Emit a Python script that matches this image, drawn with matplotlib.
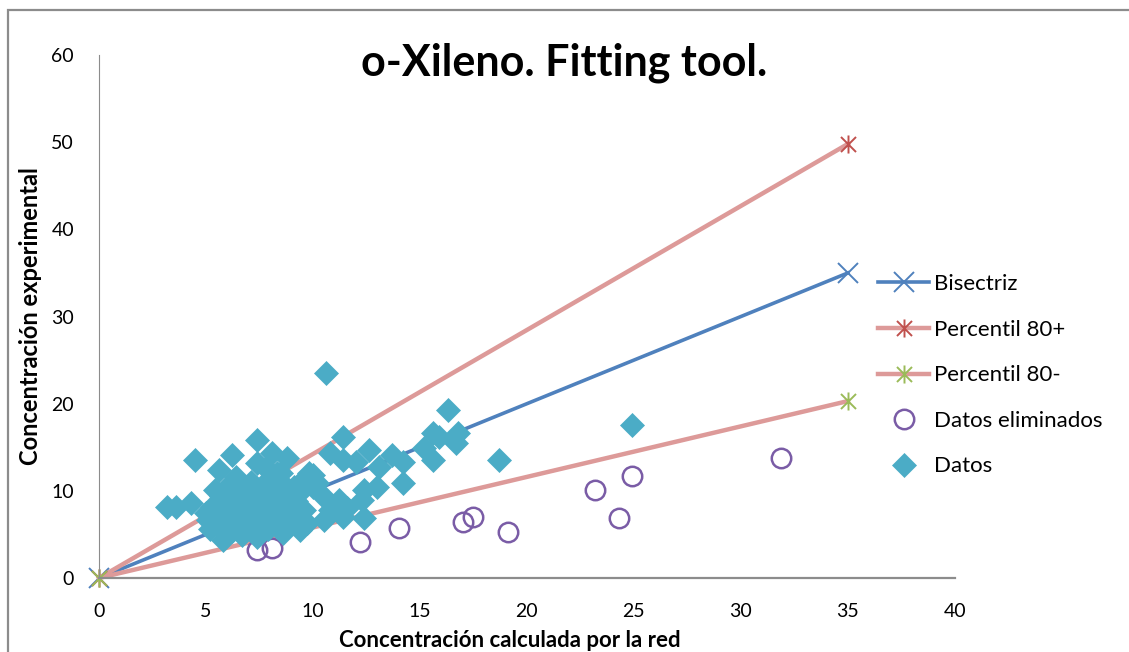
import matplotlib
matplotlib.use("Agg")
import matplotlib.pyplot as plt
from matplotlib.path import Path
from matplotlib.patches import Rectangle

# --- datos ---
linea_x = [0, 35]
bisectriz_y = [0, 35]
p80_mas_y = [0, 49.8]
p80_menos_y = [0, 20.3]

elim_x = [7.4, 8.1, 12.2, 14.0, 17.0, 17.5, 19.1, 23.2, 24.3, 24.9, 31.9]
elim_y = [3.2, 3.4, 4.1, 5.7, 6.4, 7.0, 5.3, 10.1, 6.9, 11.7, 13.8]

datos_x = [10.6, 16.3, 24.9, 18.7, 15.6, 15.9, 16.8, 16.7, 15.2, 15.6, 14.2, 14.2,
           11.4, 10.8, 12.6, 12.0, 11.4, 8.8, 13.7, 13.1, 12.4, 13.0, 10.0, 10.0,
           9.1, 10.5, 11.2, 11.6, 11.4, 12.4, 10.5, 9.4, 8.9, 8.8, 8.6, 8.5, 10.8, 12.3,
           7.4, 8.1, 4.5, 6.2, 5.6, 7.4, 8.3, 3.2, 3.6, 4.3, 9.8, 10.2, 5.4, 5.1, 5.8, 7.4,
           5.0, 5.3, 5.6, 5.9, 6.0, 6.2, 6.3, 6.5, 6.6, 6.8, 6.9, 7.0, 7.1, 7.2, 7.4, 7.5,
           7.6, 7.7, 7.9, 8.0, 8.1, 8.2, 8.4, 8.5, 8.7, 9.0, 9.2, 9.3, 9.6, 9.7, 6.1, 5.7,
           6.4, 7.8, 5.2, 6.7, 8.6, 9.5]
datos_y = [23.5, 19.3, 17.5, 13.5, 16.6, 16.2, 16.6, 15.5, 14.9, 13.5, 13.3, 10.9,
           16.2, 14.4, 14.7, 13.3, 13.5, 13.8, 14.1, 12.7, 10.1, 10.4, 11.8, 10.4,
           10.4, 9.3, 8.9, 8.0, 7.0, 6.9, 6.7, 5.5, 7.4, 8.6, 9.3, 12.0, 7.8, 8.9,
           15.8, 14.3, 13.5, 14.1, 12.4, 13.2, 12.0, 8.1, 8.1, 8.6, 12.0, 10.9, 10.1, 6.7, 4.4, 4.7,
           7.5, 8.2, 6.0, 7.1, 8.8, 5.4, 9.5, 6.5, 7.8, 10.2, 5.8, 8.5, 11.0, 7.0, 9.2, 6.2,
           10.5, 8.0, 5.6, 9.8, 7.2, 11.2, 6.4, 8.4, 10.5, 6.8, 8.8, 9.6, 7.8, 6.3, 10.8, 9.4,
           11.6, 12.6, 5.6, 4.9, 5.2, 11.1]

x_ticks = [0, 5, 10, 15, 20, 25, 30, 35, 40]
y_ticks = [0, 10, 20, 30, 40, 50, 60]

# marcador asterisco tipo Excel (X + linea vertical)
asterisco = Path([(-1, -1), (1, 1), (-1, 1), (1, -1), (0, -1.2), (0, 1.2)],
                 [Path.MOVETO, Path.LINETO, Path.MOVETO, Path.LINETO, Path.MOVETO, Path.LINETO])

azul = '#4F81BD'
rosa = '#DD9A99'
rojo = '#C0504D'
verde = '#9BBB59'
morado = '#7A5CA6'
aqua = '#4BACC6'

plt.rcParams['font.family'] = ['Lato', 'DejaVu Sans']

fig = plt.figure(figsize=(11.29, 6.52), dpi=100)
ax = fig.add_axes([0.0877, 0.1135, 0.758, 0.802])

ax.plot(linea_x, bisectriz_y, color=azul, lw=2.6, marker='x', ms=14, mew=1.4,
        mec=azul, label='Bisectriz', zorder=2, clip_on=False)
ax.plot(linea_x, p80_mas_y, color=rosa, lw=3.2, marker=asterisco, ms=13, mew=1.4,
        mec=rojo, label='Percentil 80+', zorder=2, clip_on=False)
ax.plot(linea_x, p80_menos_y, color=rosa, lw=3.2, marker=asterisco, ms=13, mew=1.4,
        mec=verde, label='Percentil 80-', zorder=2, clip_on=False)
ax.plot(elim_x, elim_y, ls='none', marker='o', ms=14, mfc='none', mec=morado, mew=1.8,
        label='Datos eliminados', zorder=3)
ax.plot(datos_x, datos_y, ls='none', marker='D', ms=12.5, mfc=aqua, mec=aqua, mew=0.5,
        label='Datos', zorder=4)

ax.set_xlim(0, 40)
ax.set_ylim(0, 60)
ax.set_xticks(x_ticks)
ax.set_yticks(y_ticks)
ax.tick_params(length=0, labelsize=14, pad=18)
ax.spines['top'].set_visible(False)
ax.spines['right'].set_visible(False)
ax.spines['left'].set_color('#8C8C8C')
ax.spines['bottom'].set_color('#8C8C8C')
ax.spines['bottom'].set_linewidth(1.6)

fig.text(0.5, 0.903, 'o-Xileno. Fitting tool.', ha='center', va='center',
         fontsize=31, fontweight='bold')
fig.text(0.027, 0.515, 'Concentración experimental', rotation=90, ha='center',
         va='center', fontsize=17, fontweight='bold')
fig.text(0.452, 0.018, 'Concentración calculada por la red', ha='center',
         va='center', fontsize=16, fontweight='bold')

leg = ax.legend(loc='upper left', bbox_to_anchor=(0.770, 0.593), bbox_transform=fig.transFigure,
                frameon=False, fontsize=16, numpoints=1, handlelength=2.3,
                handletextpad=0.2, labelspacing=1.15, borderaxespad=0)

# marco exterior del grafico
fig.patches.append(Rectangle((8 / 1129, -0.5), 2, 0.5 + (1 - 10 / 652), fill=False,
                             ec='#8C8C8C', lw=1.6, transform=fig.transFigure, figure=fig))

fig.savefig('out.png', dpi=100, facecolor='white')
